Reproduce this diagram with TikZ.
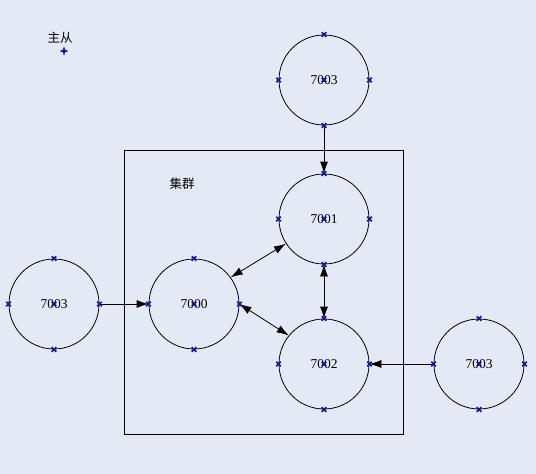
\documentclass[tikz,border=0pt]{standalone}
\usepackage{fontspec}
\setmainfont{Liberation Serif}
\newfontfamily\cjk{Noto Sans CJK SC}
\usetikzlibrary{arrows.meta}
\definecolor{bg}{RGB}{228,234,245}
\definecolor{mk}{RGB}{20,20,150}
\begin{document}
\begin{tikzpicture}[x=1pt,y=-1pt,
 srv/.style={circle,draw=black,line width=0.8pt,minimum size=90pt,inner sep=0pt,font=\fontsize{13.5}{13.5}\selectfont},
 conn/.style={line width=0.8pt,-{Latex[length=12pt,width=8pt]}},
 dconn/.style={line width=0.8pt,{Latex[length=12pt,width=8pt]}-{Latex[length=12pt,width=8pt]}},
 lbl/.style={font=\cjk\fontsize{12.5}{12.5}\selectfont,inner sep=0pt},
 xmark/.pic={\draw[mk,line width=1.6pt] (-2.3,-2.3)--(2.3,2.3) (-2.3,2.3)--(2.3,-2.3);}]
\fill[bg] (0,0) rectangle (536,474);
\useasboundingbox (0,0) rectangle (536,474);
\node[draw,line width=0.8pt,minimum width=279pt,minimum height=284pt,inner sep=0pt,anchor=north west] (cluster) at (124,150) {};
\node[lbl] (ms) at (60,38) {主从};
\coordinate (msm) at (64,51);
\fill[mk] (64,46.5) -- (65.2,49.8) -- (68.5,51) -- (65.2,52.2) -- (64,55.5) -- (62.8,52.2) -- (59.5,51) -- (62.8,49.8) -- cycle;
\node[lbl] (jq) at (182,184) {集群};
\node[srv] (top) at (324,80) {7003};
\node[srv] (n1) at (324,219) {7001};
\node[srv] (n2) at (324,364) {7002};
\node[srv] (n0) at (194,304) {7000};
\node[srv] (lft) at (54,304) {7003};
\node[srv] (rgt) at (479,364) {7003};
\draw[conn] (top.south) -- (n1.north);
\draw[conn] (lft.east) -- (n0.west);
\draw[conn] (rgt.west) -- (n2.east);
\draw[dconn] (n0.36) -- (n1.213);
\draw[dconn] (n0.east) -- (n2.141);
\draw[dconn] (n1.south) -- (n2.north);
\foreach \n in {top,n1,n2,n0,lft,rgt}
  \foreach \a in {north,south,east,west,center}
    \pic at (\n.\a) {xmark};
\end{tikzpicture}
\end{document}
